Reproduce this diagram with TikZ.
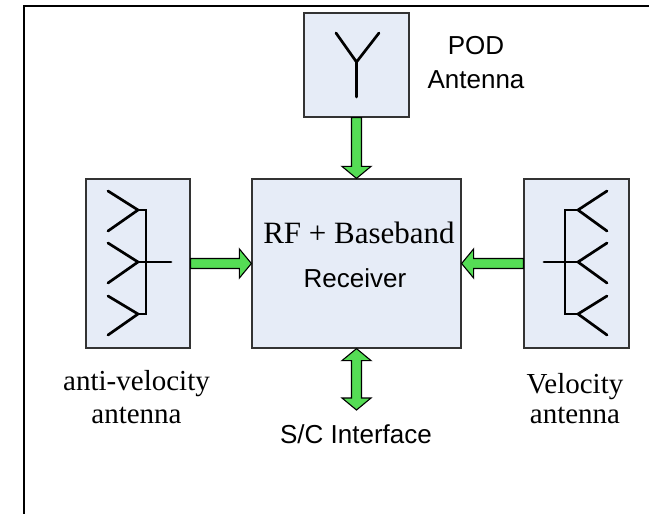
\documentclass[tikz,border=0pt]{standalone}
\usepackage{fontspec}
\setmainfont{Liberation Serif}
\setsansfont{Liberation Sans}
\usetikzlibrary{calc}
\definecolor{boxfill}{HTML}{E6ECF7}
\definecolor{boxline}{HTML}{333333}
\definecolor{arrowgreen}{HTML}{55DD55}
\tikzset{
  x=1pt,y=-1pt,
  blockbox/.style={draw=boxline,line width=1.2pt,fill=boxfill,inner sep=0pt,minimum width=#1},
  serif/.style={font=\fontsize{29}{33}\selectfont,inner sep=0pt,align=center},
  sans/.style={font=\sffamily\fontsize{26}{34}\selectfont,inner sep=0pt,align=center},
  ant/.style={line width=2.7pt,line cap=round,black},
  fat/.style={draw=black,fill=arrowgreen,line width=1.1pt,line join=miter},
  fatarrow/.style={to path={
    coordinate (s0) coordinate[at={(\tikztotarget)}] (t0)
    let \p1=($(t0)!12pt!(s0)$) in coordinate (b0) at (\p1)
    -- ($(s0)!5pt!90:(t0)$) -- ($(b0)!5pt!-90:(s0)$) -- ($(b0)!14.5pt!-90:(s0)$) -- (t0)
    -- ($(b0)!14.5pt!90:(s0)$) -- ($(b0)!5pt!90:(s0)$) -- ($(s0)!5pt!-90:(t0)$) -- cycle}},
  fatboth/.style={to path={
    coordinate (s0) coordinate[at={(\tikztotarget)}] (t0)
    let \p1=($(t0)!12pt!(s0)$), \p2=($(s0)!12pt!(t0)$) in coordinate (b0) at (\p1) coordinate (c0) at (\p2)
    -- ($(c0)!14.5pt!90:(t0)$) -- ($(c0)!5pt!90:(t0)$) -- ($(b0)!5pt!-90:(s0)$) -- ($(b0)!14.5pt!-90:(s0)$) -- (t0)
    -- ($(b0)!14.5pt!90:(s0)$) -- ($(b0)!5pt!90:(s0)$) -- ($(c0)!5pt!-90:(t0)$) -- ($(c0)!14.5pt!-90:(t0)$) -- cycle}},
}
\begin{document}
\begin{tikzpicture}
\useasboundingbox (0,0) rectangle (649,514);
\draw[black,line width=1.8pt] (24,514) -- (24,6) -- (649,6);

\node[blockbox=105pt,minimum height=104pt] (pod) at (356.5,65) {};
\node[blockbox=104pt,minimum height=169pt] (lant) at (138,263.5) {};
\node[blockbox=209pt,minimum height=169pt] (rx) at (356.5,263.5) {};
\node[blockbox=105pt,minimum height=169pt] (vant) at (576.5,263.5) {};

% POD antenna
\draw[ant] (336,33) -- (356.5,62) -- (379,33);
\draw[ant] (356.5,62) -- (356.5,97);
% anti-velocity antenna
\draw[ant] (108,191) -- (138,210) -- (108,231);
\draw[ant] (108,243) -- (138,262) -- (108,283);
\draw[ant] (108,296) -- (138,314) -- (108,335);
\draw[ant,line cap=butt] (137,210) -- (146,210) -- (146,314) -- (137,314);
\draw[ant] (138,262) -- (171,262);
% velocity antenna
\draw[ant] (607,191) -- (578,210) -- (607,231);
\draw[ant] (607,243) -- (578,262) -- (607,283);
\draw[ant] (607,296) -- (578,314) -- (607,335);
\draw[ant,line cap=butt] (578,210) -- (565,210) -- (565,314) -- (578,314);
\draw[ant] (578,262) -- (544,262);

\draw[fat] (pod.south) to[fatarrow] (rx.north);
\draw[fat] (lant.east) to[fatarrow] (rx.west);
\draw[fat] (vant.west) to[fatarrow] (rx.east);
\coordinate (scend) at (356.5,410);
\draw[fat] (rx.south) to[fatboth] (scend);

\node[sans] (podt) at (476,63) {POD\\Antenna};
\node[serif,font=\fontsize{31}{33}\selectfont] (rft) at (359,233) {RF + Baseband};
\node[sans] (rct) at (355,278) {Receiver};
\node[serif] (avt) at (136.5,397) {anti-velocity\\antenna};
\node[serif,font=\fontsize{29}{30}\selectfont] (vt) at (575,399) {Velocity\\antenna};
\node[sans] (sct) at (356,434) {S/C Interface};
\end{tikzpicture}
\end{document}
